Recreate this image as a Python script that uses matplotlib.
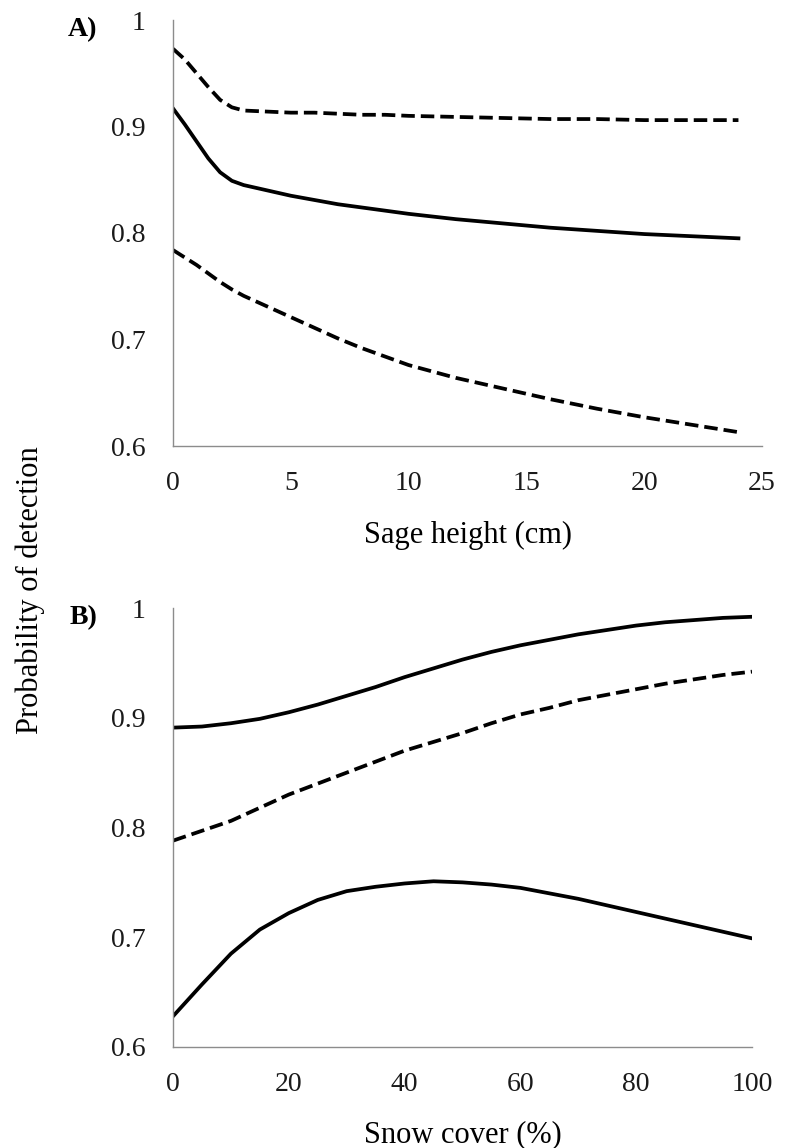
"""
Probability of detection vs sage height / snow cover
"""
import matplotlib
matplotlib.use("Agg")
import matplotlib.pyplot as plt
from matplotlib.ticker import FuncFormatter

plt.rcParams["font.family"] = ["Liberation Serif", "DejaVu Serif"]

# ===== data: panel A (sage height) =====
sage_x = [0, 0.5, 1, 1.5, 2, 2.5, 3, 4, 5, 6, 7, 8, 9, 10, 12, 14, 16, 18, 20, 22, 24]
sage_mean = [0.917, 0.902, 0.886, 0.870, 0.857, 0.849, 0.845, 0.840, 0.835, 0.831, 0.827,
             0.824, 0.821, 0.818, 0.813, 0.809, 0.805, 0.802, 0.799, 0.797, 0.795]
sage_upper = [0.973, 0.963, 0.950, 0.937, 0.925, 0.918, 0.915, 0.914, 0.913, 0.913, 0.912,
              0.911, 0.911, 0.910, 0.909, 0.908, 0.907, 0.907, 0.906, 0.906, 0.906]
sage_lower = [0.784, 0.777, 0.770, 0.762, 0.754, 0.747, 0.741, 0.731, 0.721, 0.711, 0.701,
              0.692, 0.684, 0.676, 0.664, 0.654, 0.644, 0.635, 0.627, 0.620, 0.613]

# ===== data: panel B (snow cover) =====
snow_x = [0, 5, 10, 15, 20, 25, 30, 35, 40, 45, 50, 55, 60, 65, 70, 75, 80, 85, 90, 95, 100]
snow_upper = [0.891, 0.892, 0.895, 0.899, 0.905, 0.912, 0.920, 0.928, 0.937, 0.945, 0.953,
              0.960, 0.966, 0.971, 0.976, 0.980, 0.984, 0.987, 0.989, 0.991, 0.992]
snow_mean = [0.788, 0.797, 0.806, 0.818, 0.830, 0.840, 0.850, 0.860, 0.870, 0.878, 0.886,
             0.895, 0.903, 0.909, 0.916, 0.921, 0.926, 0.931, 0.935, 0.939, 0.942]
snow_lower = [0.628, 0.657, 0.685, 0.707, 0.722, 0.734, 0.742, 0.746, 0.749, 0.751, 0.750,
              0.748, 0.745, 0.740, 0.735, 0.729, 0.723, 0.717, 0.711, 0.705, 0.699]

y_ticks = [0.6, 0.7, 0.8, 0.9, 1.0]
sage_ticks = [0, 5, 10, 15, 20, 25]
snow_ticks = [0, 20, 40, 60, 80, 100]

LW = 2.7
DASH = (3.6, 1.6)

fig = plt.figure(figsize=(7.85, 11.48), dpi=100)
ax_a = fig.add_axes([173 / 785, 1 - 446 / 1148, 589 / 785, 426 / 1148])
ax_b = fig.add_axes([173 / 785, 1 - 1047 / 1148, 579 / 785, 439 / 1148])


def style_axis(ax, xticks, xmax):
    ax.set_xlim(0, xmax)
    ax.set_ylim(0.6, 1.0)
    ax.set_xticks(xticks)
    ax.set_yticks(y_ticks)
    ax.yaxis.set_major_formatter(FuncFormatter(lambda v, p: "1" if abs(v - 1) < 1e-9 else f"{v:.1f}"))
    for s in ["top", "right"]:
        ax.spines[s].set_visible(False)
    for s in ["left", "bottom"]:
        ax.spines[s].set_color("#8c8c8c")
        ax.spines[s].set_linewidth(1.0)
    ax.tick_params(axis="both", length=0, labelsize=20, colors="#1a1a1a")
    ax.tick_params(axis="y", pad=20)
    ax.tick_params(axis="x", pad=18)


# ===== A) =====
ax_a.plot(sage_x, sage_upper, color="black", linewidth=LW, dashes=DASH)
ax_a.plot(sage_x, sage_mean, color="black", linewidth=LW)
ax_a.plot(sage_x, sage_lower, color="black", linewidth=LW, dashes=DASH)
style_axis(ax_a, sage_ticks, 25)
ax_a.set_xlabel("Sage height (cm)", fontsize=22, labelpad=18)

# ===== B) =====
ax_b.plot(snow_x, snow_upper, color="black", linewidth=LW)
ax_b.plot(snow_x, snow_mean, color="black", linewidth=LW, dashes=DASH)
ax_b.plot(snow_x, snow_lower, color="black", linewidth=LW)
style_axis(ax_b, snow_ticks, 100)
ax_b.set_xlabel("Snow cover (%)", fontsize=22, labelpad=17)

# panel letters + shared y label
fig.text(82 / 785, 1 - 30 / 1148, "A)", fontsize=20, fontweight="bold", ha="center", va="center")
fig.text(83 / 785, 1 - 618 / 1148, "B)", fontsize=20, fontweight="bold", ha="center", va="center")
fig.text(30 / 785, 1 - 590 / 1148, "Probability of detection", fontsize=22,
         rotation=90, ha="center", va="center")

plt.savefig("out.png", dpi=100)
plt.close()
